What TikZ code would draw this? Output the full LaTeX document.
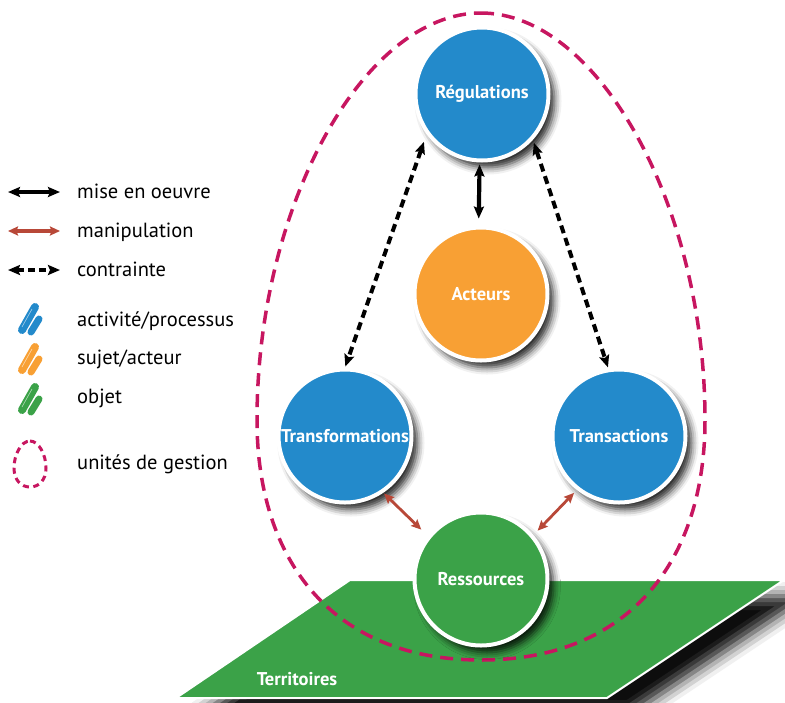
\documentclass[tikz,border=0pt]{standalone}
\usepackage{fontspec}
\setmainfont{PT Sans}
\usetikzlibrary{arrows.meta,shadows.blur}
\definecolor{cblue}{RGB}{35,138,203}
\definecolor{corange}{RGB}{248,160,52}
\definecolor{cgreen}{RGB}{59,162,72}
\definecolor{cmag}{RGB}{199,22,96}
\definecolor{cbrown}{RGB}{184,72,56}
\begin{document}
\begin{tikzpicture}[x=1pt,y=-1pt,
  bubble/.style={circle, draw=white, line width=4pt, minimum size=133pt, inner sep=0pt,
    text=white, font=\bfseries\fontsize{18.5}{22}\selectfont,
    blur shadow={shadow xshift=6pt, shadow yshift=-7pt, shadow blur radius=7pt, shadow opacity=85}},
  tipA/.tip={Stealth[length=12pt,width=10pt,inset=2pt]},
  tipB/.tip={Stealth[length=10pt,width=9pt,inset=1.5pt]},
  mise/.style={line width=4.2pt, black, tipA-tipA},
  contr/.style={line width=4pt, black, dash pattern=on 8pt off 5pt, tipA-tipA},
  manip/.style={line width=2.8pt, cbrown, tipB-tipB},
  legtext/.style={anchor=base west, inner sep=0pt, font=\fontsize{20.5}{24}\selectfont},
  brush/.style={line width=8pt, line cap=round, draw=#1},
  egg/.style={draw=cmag, line width=3.5pt, dash pattern=on 13pt off 8pt}
]
\useasboundingbox (0,0) rectangle (785,702);

% territory
\path[fill=cgreen, draw=white, line width=2pt,
  blur shadow={shadow xshift=24pt, shadow yshift=-16pt, shadow blur radius=14pt, shadow opacity=95}]
  (350,580) -- (784,580) -- (607,698) -- (176,698) -- cycle;
\node[text=white, font=\bfseries\fontsize{18.5}{22}\selectfont] (terr) at (297,679) {Territoires};

% management unit (egg)
\draw[egg] (481,13) .. controls (598,13) and (705,205) .. (705,420)
  .. controls (705,560) and (630,660) .. (481,660)
  .. controls (332,660) and (257,560) .. (257,420)
  .. controls (257,205) and (364,13) .. cycle;

% circles
\node[bubble, fill=cblue] (reg) at (482,94) {Régulations};
\node[bubble, fill=corange] (act) at (481,294) {Acteurs};
\node[bubble, fill=cblue] (tf) at (345,436) {Transformations};
\node[bubble, fill=cblue] (tr) at (619,436) {Transactions};
\node[bubble, fill=cgreen] (res) at (481,579) {Ressources};

% connectors
\draw[mise, shorten <=2pt, shorten >=7pt] (reg.268) -- (act.92);
\draw[contr, shorten <=8pt, shorten >=1pt] (reg.216) -- (tf.north);
\draw[contr, shorten <=3pt, shorten >=1pt] (reg.318) -- (tr.99);
\draw[manip, shorten <=1pt, shorten >=9pt] (tf.304) -- (res.141);
\draw[manip, shorten <=4pt, shorten >=6pt] (tr.232) -- (res.40);

% legend
\coordinate (l1a) at (8,192); \coordinate (l1b) at (60,192);
\coordinate (l2a) at (8,231); \coordinate (l2b) at (60,231);
\coordinate (l3a) at (8,270); \coordinate (l3b) at (60,270);
\draw[mise, line width=3.5pt] (l1a) -- (l1b);
\draw[manip, line width=3.5pt] (l2a) -- (l2b);
\draw[contr, line width=3.5pt, dash pattern=on 7pt off 4pt] (l3a) -- (l3b);
\node[legtext] (t1) at (77,198) {mise en oeuvre};
\node[legtext] (t2) at (77,237) {manipulation};
\node[legtext] (t3) at (77,276) {contrainte};
\node[legtext] (t4) at (77,326) {activité/processus};
\node[legtext] (t5) at (77,364) {sujet/acteur};
\node[legtext] (t6) at (77,403) {objet};
\node[legtext] (t7) at (77,469) {unités de gestion};

\foreach \c/\dy in {cblue/0, corange/40, cgreen/80}{
  \draw[brush=\c] (22,330+\dy) -- (35,307+\dy);
  \draw[brush=\c, line width=7pt] (39,319+\dy) -- (31,332+\dy);
  \draw[white, opacity=0.6, line width=0.6pt] (22,327+\dy) -- (32,309+\dy);
}
\draw[draw=cmag, line width=3pt, dash pattern=on 6pt off 4.5pt]
  (30,441) .. controls (39,441) and (46,455) .. (46,468)
  .. controls (46,480) and (39,487) .. (30,487)
  .. controls (21,487) and (14,480) .. (14,468)
  .. controls (14,455) and (21,441) .. cycle;
\end{tikzpicture}
\end{document}
